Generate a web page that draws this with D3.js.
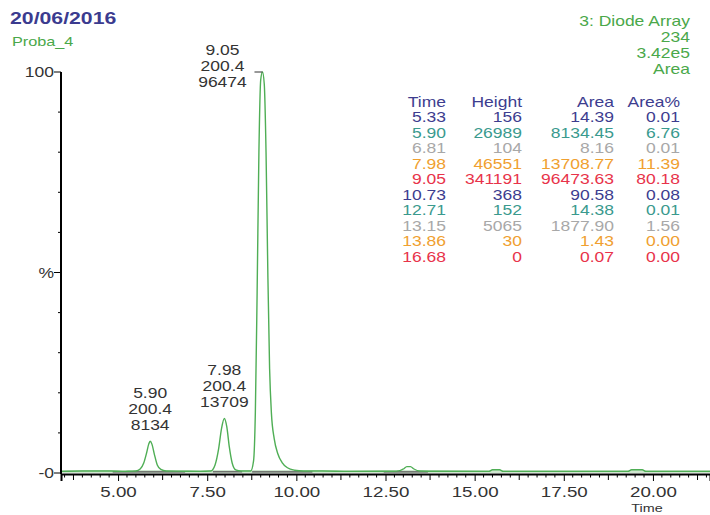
<!DOCTYPE html>
<html>
<head>
<meta charset="utf-8">
<script src="https://cdn.jsdelivr.net/npm/d3@7"></script>
<style>
  body { margin: 0; background: #fff; }
  svg { font-family: "Liberation Sans", Arial, sans-serif; }
</style>
</head>
<body>
<svg id="chart" width="710" height="515"></svg>
<script>
// chromatogram trace: [time (min), % of max]
var trace = [
  [3.40, 0.4], [4.00, 0.5], [4.80, 0.5], [5.20, 0.4], [5.33, 0.45], [5.50, 0.5],
  [5.62, 1.0], [5.72, 2.5], [5.80, 5.0], [5.86, 7.2], [5.90, 7.9], [5.95, 7.2],
  [6.02, 4.6], [6.10, 2.0], [6.20, 0.9], [6.35, 0.5], [6.81, 0.45], [7.30, 0.4],
  [7.60, 0.5], [7.72, 2.0], [7.82, 6.0], [7.90, 11.0], [7.98, 13.6], [8.05, 11.5],
  [8.12, 6.5], [8.20, 2.5], [8.30, 0.8], [8.45, 0.5], [8.72, 0.5], [8.80, 3.0],
  [8.85, 15.0], [8.90, 45.0], [8.95, 80.0], [9.00, 98.0], [9.05, 100.0], [9.10, 97.0],
  [9.15, 80.0], [9.20, 50.0], [9.25, 26.0], [9.30, 15.0], [9.38, 8.5], [9.48, 4.8],
  [9.60, 2.6], [9.75, 1.3], [9.95, 0.7], [10.20, 0.5], [10.73, 0.5], [11.50, 0.4],
  [12.71, 0.45], [12.90, 0.6], [13.00, 1.0], [13.10, 1.6], [13.20, 1.6], [13.30, 1.0],
  [13.45, 0.5], [13.86, 0.45], [15.40, 0.4], [15.50, 0.8], [15.70, 0.8], [15.80, 0.4],
  [19.30, 0.4], [19.40, 0.8], [19.70, 0.8], [19.80, 0.4], [21.60, 0.4]
];

// integration baselines drawn under peaks: [start, end] in minutes
var baselines = [[4.85, 6.88], [7.66, 8.48], [8.76, 10.45], [12.45, 13.69]];

// peak table
var peakTimes   = ["5.33", "5.90", "6.81", "7.98", "9.05", "10.73", "12.71", "13.15", "13.86", "16.68"];
var peakHeights = ["156", "26989", "104", "46551", "341191", "368", "152", "5065", "30", "0"];
var peakAreas   = ["14.39", "8134.45", "8.16", "13708.77", "96473.63", "90.58", "14.38", "1877.90", "1.43", "0.07"];
var peakAreaPct = ["0.01", "6.76", "0.01", "11.39", "80.18", "0.08", "0.01", "1.56", "0.00", "0.00"];
var tableHeader = ["Time", "Height", "Area", "Area%"];
var rowColors   = ["#3d3d8f", "#3a9a8e", "#a8a8a8", "#f0a030", "#e8334a"];

// labelled peaks: time, height %, label lines
var labelTimes   = [5.90, 7.98, 9.05];
var labelHeights = [7.9, 13.6, 100];
var labelLines   = [["5.90", "200.4", "8134"], ["7.98", "200.4", "13709"], ["9.05", "200.4", "96474"]];

// axes
var timeTicks = [5, 7.5, 10, 12.5, 15, 17.5, 20];
var headerRight = ["3: Diode Array", "234", "3.42e5", "Area"];

var SX = 1.25; // the original lettering is wide
var svg = d3.select("#chart");
var x = d3.scaleLinear().domain([3.4, 21.6]).range([61, 710]);
var y = d3.scaleLinear().domain([0, 100]).range([473, 72]);

function txt(parent, px, py, s, size, fill, anchor){
  return parent.append("text")
    .attr("transform", "translate(" + px + "," + py + ") scale(" + SX + ",1)")
    .attr("font-size", size).attr("fill", fill)
    .attr("text-anchor", anchor || "start")
    .text(s);
}

// header
txt(svg, 10, 24, "20/06/2016", 17, "#3b3b8f").attr("font-weight", "bold");
txt(svg, 12, 46, "Proba_4", 13, "#4aa84a");
headerRight.forEach(function(t, i){
  txt(svg, 690, 26 + i * 16, t, 14, "#4aa84a", "end");
});

// table
var colRight = [446, 522, 614, 680];
var tbl = svg.append("g");
tableHeader.forEach(function(h, c){
  txt(tbl, colRight[c], 107, h, 14, "#3d3d8f", "end");
});
var cols = [peakTimes, peakHeights, peakAreas, peakAreaPct];
peakTimes.forEach(function(d, r){
  cols.forEach(function(col, c){
    txt(tbl, colRight[c], 122 + r * 15.5, col[r], 14, rowColors[r % rowColors.length], "end");
  });
});

// pale baseline band
svg.append("line")
  .attr("x1", x(3.4)).attr("x2", x(21.6))
  .attr("y1", y(0.4)).attr("y2", y(0.4))
  .attr("stroke", "#cfe6cf").attr("stroke-width", 3);

// integration baselines
svg.append("g").selectAll("line").data(baselines).join("line")
  .attr("x1", function(d){ return x(d[0]); })
  .attr("x2", function(d){ return x(d[1]); })
  .attr("y1", y(0.3)).attr("y2", y(0.3))
  .attr("stroke", "#555").attr("stroke-width", 1.2);

// trace
var line = d3.line()
  .x(function(d){ return x(d[0]); })
  .y(function(d){ return y(d[1]); })
  .curve(d3.curveMonotoneX);
svg.append("path").datum(trace)
  .attr("d", line)
  .attr("fill", "none")
  .attr("stroke", "#4fae55")
  .attr("stroke-width", 1.4);

// peak top marker on main peak
svg.append("line")
  .attr("x1", x(9.05) - 8).attr("x2", x(9.05))
  .attr("y1", y(100)).attr("y2", y(100))
  .attr("stroke", "#333").attr("stroke-width", 1);

// peak labels
labelTimes.forEach(function(t, i){
  var top = y(labelHeights[i]);
  var cx = x(t), lastY = top - 16;
  if (top - 16 * 3 < 40) { cx = x(t) - 40; lastY = top + 10; }
  labelLines[i].forEach(function(s, k){
    txt(svg, cx, lastY - (2 - k) * 16 + 5, s, 14, "#333", "middle");
  });
});

// y axis
svg.append("line").attr("x1", 61).attr("x2", 61)
  .attr("y1", y(100)).attr("y2", y(0) + 1)
  .attr("stroke", "#000").attr("stroke-width", 2);
d3.range(10, 100, 10).forEach(function(v){
  if (v === 50) return;
  svg.append("line").attr("x1", 58).attr("x2", 61)
    .attr("y1", y(v)).attr("y2", y(v)).attr("stroke", "#000");
});
[[100, "100"], [50, "%"], [0, "-0"]].forEach(function(d){
  svg.append("line").attr("x1", 54).attr("x2", 61)
    .attr("y1", y(d[0])).attr("y2", y(d[0])).attr("stroke", "#000");
  txt(svg, 54, y(d[0]) + 5, d[1], 14, "#333", "end");
});

// x axis
var xAxis = d3.axisBottom(x)
  .tickValues(timeTicks)
  .tickFormat(function(d){ return d.toFixed(2); })
  .tickSize(7).tickPadding(5);
var gx = svg.append("g").attr("transform", "translate(0," + (y(0) + 1) + ")").call(xAxis);
gx.select(".domain").attr("stroke", "#000").attr("stroke-width", 2);
gx.selectAll(".tick text")
  .attr("font-size", 15).attr("font-family", null).attr("fill", "#333")
  .attr("transform", "scale(" + SX + ",1)");
var minor = d3.range(3.5, 21.6, 0.25).filter(function(t){ return Math.abs(t / 2.5 - Math.round(t / 2.5)) > 0.01; });
gx.selectAll(".minor").data(minor).join("line")
  .attr("x1", function(d){ return x(d); }).attr("x2", function(d){ return x(d); })
  .attr("y1", 0)
  .attr("y2", function(d){ return Math.abs(d / 1.25 - Math.round(d / 1.25)) < 0.01 ? 6 : 3.5; })
  .attr("stroke", "#000");

txt(svg, 647, 512, "Time", 11.5, "#333", "middle");
</script>
</body>
</html>
